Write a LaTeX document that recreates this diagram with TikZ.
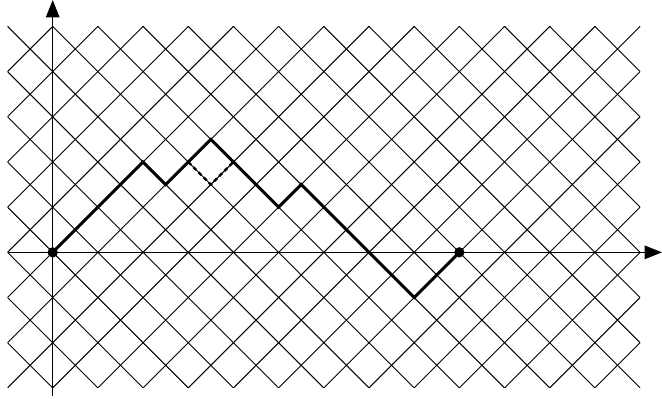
\documentclass[tikz,border=0pt]{standalone}
\usetikzlibrary{arrows.meta}
\tikzset{
  gridline/.style={line width=0.6pt, black},
  axisline/.style={line width=0.7pt, black, -{Triangle[length=11pt,width=8.6pt]}},
  pathline/.style={line width=1.9pt, black, line join=miter},
  altline/.style={line width=1.5pt, black, dash pattern=on 2.6pt off 2pt},
  endpoint/.style={circle, fill=black, inner sep=0pt, minimum size=6.5pt}
}
\begin{document}
\begin{tikzpicture}[x=0.5cm,y=0.5cm]
\useasboundingbox (-2.333,-6.45) rectangle (26.97,11.17);
\begin{scope}
  \clip (-2,-6) rectangle (26,10);
  \foreach \c in {-12,-10,...,32} {
    \draw[gridline] ({\c-10},-10) -- ({\c+14},14);
  }
  \foreach \c in {-8,-6,...,36} {
    \draw[gridline] ({\c-14},14) -- ({\c+10},-10);
  }
\end{scope}
\coordinate (xs) at (-2,0);
\coordinate (xe) at (26.97,0);
\coordinate (ys) at (0,-6.36);
\coordinate (ye) at (0,11.17);
\draw[axisline] (xs) -- (xe);
\draw[axisline] (ys) -- (ye);
\node[endpoint] (A) at (0,0) {};
\node[endpoint] (B) at (18,0) {};
\coordinate (p1) at (4,4);
\coordinate (p2) at (5,3);
\coordinate (p3) at (7,5);
\coordinate (p4) at (10,2);
\coordinate (p5) at (11,3);
\coordinate (p6) at (16,-2);
\coordinate (q1) at (6,4);
\coordinate (q2) at (7,3);
\coordinate (q3) at (8,4);
\draw[pathline] (A.center) -- (p1) -- (p2) -- (p3) -- (p4) -- (p5) -- (p6) -- (B.center);
\draw[altline] (q1) -- (q2) -- (q3);
\end{tikzpicture}
\end{document}
